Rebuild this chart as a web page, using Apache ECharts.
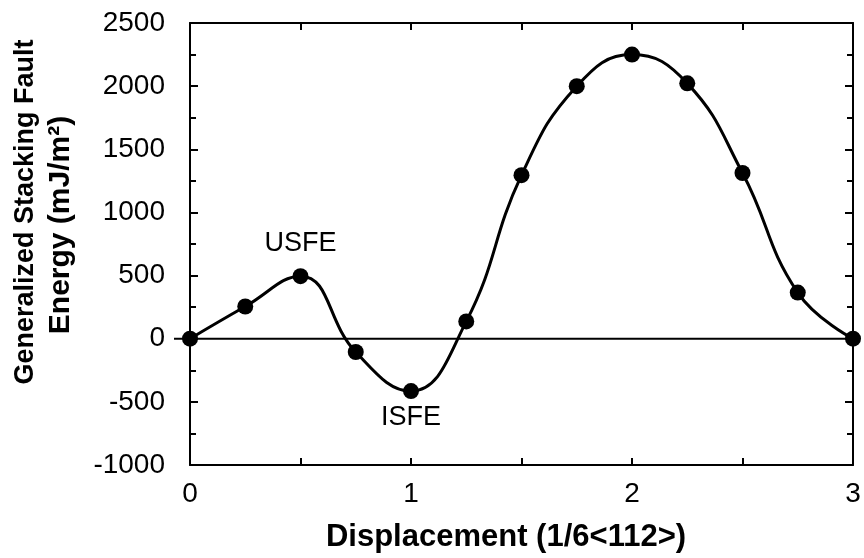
<!DOCTYPE html>
<html>
<head>
<meta charset="utf-8">
<script src="https://cdn.jsdelivr.net/npm/echarts@6/dist/echarts.min.js"></script>
<style>
  html, body { margin: 0; padding: 0; background: #fff; }
  #chart { width: 864px; height: 558px; }
</style>
</head>
<body>
<div id="chart"></div>
<script>
// Generalized stacking fault energy along the <112> partial direction
const displacement = [0, 0.25, 0.5, 0.75, 1.0, 1.25, 1.5, 1.75, 2.0, 2.25, 2.5, 2.75, 3.0];
const energy = [0, 255, 495, -105, -415, 137, 1295, 2000, 2250, 2022, 1312, 365, 0];
// Annotated points: index into the series and the text shown
const annotationIndex = [2, 4];
const annotationText = ['USFE', 'ISFE'];
const xTickLabels = [0, 1, 2, 3];
const yTickLabels = [-1000, -500, 0, 500, 1000, 1500, 2000, 2500];
const xTitle = 'Displacement (1/6<112>)';
const yTitleLines = ['Generalized Stacking Fault', 'Energy (mJ/m\u00B2)'];

const FONT = 'Liberation Sans, Arial, Helvetica, sans-serif';

const seriesData = displacement.map((x, i) => {
  const item = { value: [x, energy[i]] };
  const k = annotationIndex.indexOf(i);
  if (k >= 0) {
    const above = energy[i] > 0;
    item.label = {
      show: true,
      formatter: annotationText[k],
      position: above ? 'top' : 'bottom',
      distance: above ? 11 : 5,
      fontFamily: FONT,
      fontSize: 27,
      color: '#000'
    };
  }
  return item;
});

const chart = echarts.init(document.getElementById('chart'), null, { renderer: 'canvas' });

const axisLineStyle = { color: '#000', width: 2 };

const option = {
  animation: false,
  backgroundColor: '#fff',
  grid: { left: 190, right: 11, top: 23, bottom: 93, containLabel: false },
  xAxis: [
    {
      type: 'value',
      min: xTickLabels[0],
      max: xTickLabels[xTickLabels.length - 1],
      interval: 0.5,
      position: 'bottom',
      axisLine: { show: true, onZero: false, lineStyle: axisLineStyle },
      axisTick: { show: true, inside: true, length: 7, lineStyle: axisLineStyle },
      axisLabel: {
        margin: 15,
        fontFamily: FONT,
        fontSize: 28,
        color: '#000',
        formatter: v => (xTickLabels.indexOf(v) >= 0 ? String(v) : '')
      },
      splitLine: { show: false }
    },
    {
      type: 'value',
      min: xTickLabels[0],
      max: xTickLabels[xTickLabels.length - 1],
      interval: 0.5,
      position: 'top',
      axisLine: { show: true, onZero: false, lineStyle: axisLineStyle },
      axisTick: { show: true, inside: true, length: 7, lineStyle: axisLineStyle },
      axisLabel: { show: false },
      splitLine: { show: false }
    }
  ],
  yAxis: [
    {
      type: 'value',
      min: yTickLabels[0],
      max: yTickLabels[yTickLabels.length - 1],
      interval: 500,
      position: 'left',
      axisLine: { show: true, onZero: false, lineStyle: axisLineStyle },
      axisTick: { show: true, inside: true, length: 8, lineStyle: axisLineStyle },
      minorTick: { show: true, splitNumber: 2, length: 6, lineStyle: axisLineStyle },
      axisLabel: {
        margin: 25, fontFamily: FONT, fontSize: 28, color: '#000',
        formatter: v => String(v)
      },
      splitLine: { show: false }
    },
    {
      type: 'value',
      min: yTickLabels[0],
      max: yTickLabels[yTickLabels.length - 1],
      interval: 500,
      position: 'right',
      axisLine: { show: true, onZero: false, lineStyle: axisLineStyle },
      axisTick: { show: true, inside: true, length: 8, lineStyle: axisLineStyle },
      minorTick: { show: true, splitNumber: 2, length: 6, lineStyle: axisLineStyle },
      axisLabel: { show: false },
      splitLine: { show: false }
    }
  ],
  series: [
    {
      type: 'line',
      xAxisIndex: 0,
      yAxisIndex: 0,
      data: seriesData,
      smooth: 0.45,
      symbol: 'circle',
      symbolSize: 16,
      lineStyle: { color: '#000', width: 3 },
      itemStyle: { color: '#000' },
      z: 5
    }
  ]
};

chart.setOption(option);

// Zero-energy reference line, running from just left of the y axis to the right frame
const p0 = chart.convertToPixel({ xAxisIndex: 0, yAxisIndex: 0 }, [xTickLabels[0], 0]);
const p1 = chart.convertToPixel({ xAxisIndex: 0, yAxisIndex: 0 }, [xTickLabels[xTickLabels.length - 1], 0]);
const titleStyle = { fill: '#000', fontFamily: FONT, fontWeight: 'bold', align: 'center', verticalAlign: 'middle' };
chart.setOption({
  graphic: [
    {
      type: 'line',
      shape: { x1: p0[0] - 16, y1: p0[1], x2: p1[0], y2: p1[1] },
      style: { stroke: '#000', lineWidth: 2 },
      z: 1
    },
    {
      type: 'text', x: 506, y: 537,
      style: Object.assign({ text: xTitle, fontSize: 31 }, titleStyle)
    },
    {
      type: 'text', x: 26, y: 212, rotation: Math.PI / 2,
      style: Object.assign({ text: yTitleLines[0], fontSize: 27 }, titleStyle)
    },
    {
      type: 'text', x: 61, y: 225, rotation: Math.PI / 2,
      style: Object.assign({ text: yTitleLines[1], fontSize: 30 }, titleStyle)
    }
  ]
});
</script>
</body>
</html>
